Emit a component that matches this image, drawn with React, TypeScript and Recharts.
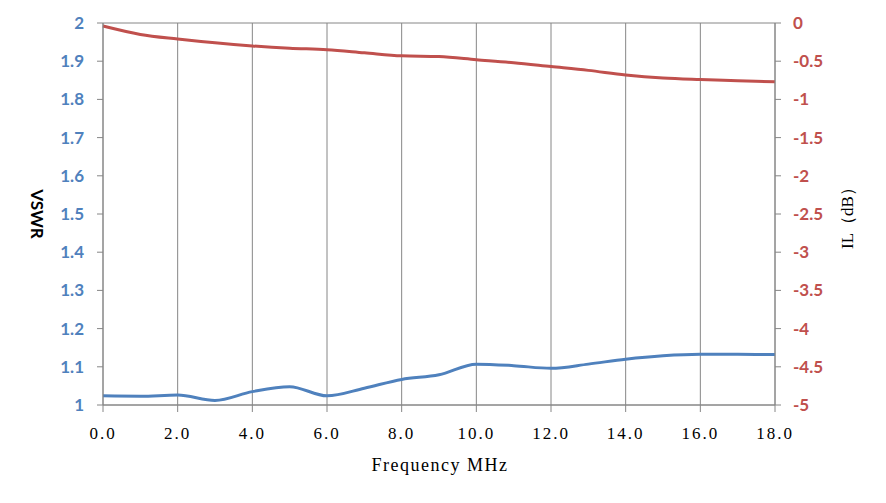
import React from "react";
import {
  CartesianGrid,
  Label,
  Line,
  LineChart,
  XAxis,
  YAxis,
} from "recharts";

const BLUE = "#4F81BD";
const RED = "#C0504D";
const GRID = "#868686";

// Frequency in MHz, one sample per MHz
const freq = [0, 1, 2, 3, 4, 5, 6, 7, 8, 9, 10, 11, 12, 13, 14, 15, 16, 17, 18];
const vswr = [
  1.024, 1.023, 1.026, 1.012, 1.035, 1.048, 1.024, 1.044, 1.067, 1.079,
  1.107, 1.103, 1.096, 1.107, 1.12, 1.129, 1.133, 1.133, 1.132,
];
const il = [
  -0.04, -0.15, -0.21, -0.26, -0.3, -0.33, -0.35, -0.39, -0.43, -0.44,
  -0.48, -0.52, -0.57, -0.62, -0.68, -0.72, -0.74, -0.755, -0.77,
];

const xTicks = [0, 2, 4, 6, 8, 10, 12, 14, 16, 18];
const vswrTicks = [1, 1.1, 1.2, 1.3, 1.4, 1.5, 1.6, 1.7, 1.8, 1.9, 2];
const ilTicks = [-5, -4.5, -4, -3.5, -3, -2.5, -2, -1.5, -1, -0.5, 0];

const rows = freq.map((f, i) => ({ f, vswr: vswr[i], il: il[i] }));

const tickNum = { fontFamily: "Lato", fontWeight: 700, fontSize: 17 };
const serif = "'Liberation Serif', serif";

function VswrTitle({ viewBox }: any) {
  const x = viewBox.x + 37;
  const y = viewBox.y + viewBox.height / 2;
  return (
    <text
      x={x}
      y={y}
      transform={`rotate(90 ${x} ${y})`}
      textAnchor="middle"
      dominantBaseline="central"
      fontFamily="Lato"
      fontWeight={700}
      fontSize={17}
      fill="#000"
    >
      VSWR
    </text>
  );
}

function IlTitle({ viewBox }: any) {
  const x = viewBox.x + 72;
  const y = viewBox.y + viewBox.height / 2;
  return (
    <text
      x={x}
      y={y}
      transform={`rotate(-90 ${x} ${y})`}
      textAnchor="middle"
      dominantBaseline="central"
      fontFamily={serif}
      fontSize={17}
      fill="#000"
    >
      IL（dB）
    </text>
  );
}

function FreqTitle({ viewBox }: any) {
  return (
    <text
      x={viewBox.x + viewBox.width / 2 + 1}
      y={viewBox.y + 60}
      textAnchor="middle"
      dominantBaseline="central"
      fontFamily={serif}
      fontSize={18}
      letterSpacing={1.5}
      fill="#000"
    >
      Frequency MHz
    </text>
  );
}

export default function App() {
  return (
    <div style={{ position: "absolute", left: 0, top: 0, background: "#fff" }}>
      <LineChart
        width={886}
        height={503}
        data={rows}
        margin={{ top: 23, right: 0, bottom: 0, left: 0 }}
      >
        <CartesianGrid stroke={GRID} strokeWidth={1} />
        <XAxis
          dataKey="f"
          type="number"
          domain={[0, 18]}
          ticks={xTicks}
          tickFormatter={(v: number) => v.toFixed(1)}
          height={98}
          tickSize={7}
          tickMargin={15}
          axisLine={{ stroke: GRID }}
          tickLine={{ stroke: GRID }}
          tick={{ fill: "#000", fontFamily: serif, fontSize: 17, letterSpacing: 2 }}
        >
          <Label content={FreqTitle} />
        </XAxis>
        <YAxis
          yAxisId="vswr"
          orientation="left"
          domain={[1, 2]}
          ticks={vswrTicks}
          tickFormatter={(v: number) => String(v)}
          width={103}
          tickSize={6}
          tickMargin={13}
          axisLine={{ stroke: GRID }}
          tickLine={{ stroke: GRID }}
          tick={{ fill: BLUE, ...tickNum }}
        >
          <Label content={VswrTitle} />
        </YAxis>
        <YAxis
          yAxisId="il"
          orientation="right"
          domain={[-5, 0]}
          ticks={ilTicks}
          tickFormatter={(v: number) => String(v)}
          width={111}
          tickSize={6}
          tickMargin={12}
          axisLine={{ stroke: GRID }}
          tickLine={{ stroke: GRID }}
          tick={{ fill: RED, ...tickNum }}
        >
          <Label content={IlTitle} />
        </YAxis>
        <Line
          yAxisId="il"
          type="monotone"
          dataKey="il"
          stroke={RED}
          strokeWidth={3}
          dot={false}
          isAnimationActive={false}
        />
        <Line
          yAxisId="vswr"
          type="monotone"
          dataKey="vswr"
          stroke={BLUE}
          strokeWidth={3}
          dot={false}
          isAnimationActive={false}
        />
      </LineChart>
    </div>
  );
}
